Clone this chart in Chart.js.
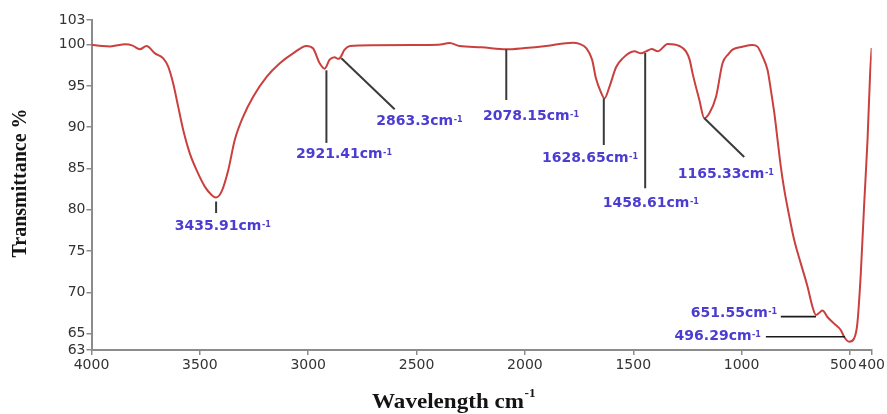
<!DOCTYPE html>
<html><head><meta charset="utf-8">
<script src="https://cdn.jsdelivr.net/npm/chart.js@4"></script>
<style>html,body{margin:0;padding:0;background:#fff}canvas{display:block}</style>
</head><body>
<canvas id="c" width="887" height="414"></canvas>
<script>
// ---- data ----
const wavenumbers = [4000,3950,3915,3880,3846,3810,3777,3746,3707,3669,3646,3623,3600,3577,3546,3515,3477,3446,3426,3400,3369,3339,3300,3254,3192,3131,3070,3008,2978,2947,2924,2901,2878,2863,2855,2832,2808,2700,2517,2400,2348,2301,2200,2086,2000,1902,1779,1748,1717,1690,1672,1650,1633,1610,1579,1549,1495,1464,1441,1415,1387,1341,1287,1257,1240,1226,1195,1172,1149,1118,1088,1060,1042,996,950,927,903,880,865,849,834,819,803,780,757,727,696,673,657,640,627,604,573,542,527,504,481,466,450,435,419,407,400];
const transmittance = [100.0,99.85,99.8,99.95,100.05,99.9,99.45,99.85,98.95,98.35,97.35,95.3,92.5,89.7,86.8,84.8,82.8,81.8,81.5,82.2,84.8,88.45,91.3,93.7,96.1,97.75,98.95,99.85,99.57,97.75,97.1,98.2,98.5,98.3,98.35,99.4,99.85,99.95,99.97,100.0,100.2,99.85,99.7,99.45,99.6,99.85,100.25,100.1,99.6,98.2,95.9,94.3,93.5,94.9,97.3,98.35,99.2,98.96,99.2,99.5,99.2,100.1,99.85,99.2,98.2,96.5,93.3,91.1,91.7,93.7,97.75,98.9,99.4,99.75,99.97,99.77,98.55,96.9,94.5,91.7,88.45,85.2,82.4,79.2,76.3,73.5,70.7,68.25,67.25,67.55,67.8,67.0,66.2,65.4,64.6,64.0,64.4,66.2,72.3,80.4,88.45,96.5,99.6];
const xTickValues = [4000,3500,3000,2500,2000,1500,1000,500,400];
const yTickValues = [63,65,70,75,80,85,90,95,100,103];
const peakLabels = ['3435.91','2921.41','2863.3','2078.15','1628.65','1458.61','1165.33','651.55','496.29'];

// leader geometry in data units (wavenumber, %T)
const leaderGeometry = [
  {line:[[3425,81.0],[3425,79.6]], at:[3394,78.15], align:'center'},
  {line:[[2916,96.9],[2916,88.1]], at:[2835,86.9], align:'center'},
  {line:[[2847,98.36],[2601,92.18]], at:[2487,90.9], align:'center'},
  {line:[[2086,99.45],[2086,93.3]], at:[1972,91.5], align:'center'},
  {line:[[1636,93.5],[1636,87.85]], at:[1700,86.4], align:'center'},
  {line:[[1445,99.0],[1445,82.6]], at:[1419,81.0], align:'center'},
  {line:[[1172,91.1],[988,86.4]], at:[1073,84.4], align:'center'},
  {line:[[819,67.04],[657,67.04]], at:[836,67.65], align:'right'},
  {line:[[888,64.6],[523,64.6]], at:[911,64.8], align:'right'}
];

const AXIS = '#8c8c8c';
const LABEL_BLUE = '#4b3cd2';

function drawWithSup(ctx, main, sup, x, yMid, align, mainFont, supFont, supRise, color){
  ctx.save();
  ctx.fillStyle = color;
  ctx.font = mainFont;
  const wMain = ctx.measureText(main).width;
  ctx.font = supFont;
  const wSup = ctx.measureText(sup).width;
  const total = wMain + wSup + 0.5;
  let x0 = x;
  if (align === 'center') x0 = x - total/2;
  else if (align === 'right') x0 = x - total;
  ctx.textAlign = 'left';
  ctx.textBaseline = 'alphabetic';
  ctx.font = mainFont;
  const base = yMid + 5;
  ctx.fillText(main, x0, base);
  ctx.font = supFont;
  ctx.fillText(sup, x0 + wMain + 0.5, base - supRise);
  ctx.restore();
}

const annotate = {
  id:'annotate',
  afterDatasetsDraw(chart){
    const ctx = chart.ctx, xs = chart.scales.x, ys = chart.scales.y;
    ctx.save();
    leaderGeometry.forEach((g, i) => {
      ctx.beginPath();
      ctx.strokeStyle = i >= 7 ? '#1a1a1a' : '#3a3a3a';
      ctx.lineWidth = i >= 7 ? 1.6 : 2;
      ctx.moveTo(xs.getPixelForValue(g.line[0][0]), ys.getPixelForValue(g.line[0][1]));
      ctx.lineTo(xs.getPixelForValue(g.line[1][0]), ys.getPixelForValue(g.line[1][1]));
      ctx.stroke();
      drawWithSup(ctx, peakLabels[i] + 'cm', '-1',
        xs.getPixelForValue(g.at[0]), ys.getPixelForValue(g.at[1]), g.align,
        'bold 14px "DejaVu Sans"', 'bold 8px "DejaVu Sans"', 3, LABEL_BLUE);
    });
    ctx.restore();
  },
  afterDraw(chart){
    const ctx = chart.ctx;
    // x title
    ctx.save();
    ctx.translate(372, 408);
    ctx.scale(1.1, 1);
    ctx.fillStyle = '#141414';
    ctx.textBaseline = 'alphabetic';
    ctx.textAlign = 'left';
    ctx.font = 'bold 21px "Liberation Serif"';
    const t = 'Wavelength cm';
    const w = ctx.measureText(t).width;
    ctx.fillText(t, 0, 0);
    ctx.font = 'bold 12px "Liberation Serif"';
    ctx.fillText('-1', w + 0.5, -11);
    ctx.restore();
    // y title
    ctx.save();
    ctx.translate(26, 183);
    ctx.rotate(-Math.PI/2);
    ctx.fillStyle = '#141414';
    ctx.textAlign = 'center';
    ctx.textBaseline = 'alphabetic';
    ctx.font = 'bold 20px "Liberation Serif"';
    ctx.fillText('Transmittance %', 0, 0);
    ctx.restore();
  }
};

new Chart(document.getElementById('c'), {
  type:'line',
  data:{datasets:[{
    data: wavenumbers.map((w,i)=>({x:w, y:transmittance[i]})),
    borderColor:'#c9403f', borderWidth:2, pointRadius:0, fill:false,
    cubicInterpolationMode:'monotone'
  }]},
  options:{
    responsive:false, animation:false, devicePixelRatio:1,
    layout:{padding:{top:20, right:14.3, left:0, bottom:0}},
    plugins:{legend:{display:false}, tooltip:{enabled:false}},
    scales:{
      x:{
        type:'linear', reverse:true, min:400, max:4000,
        afterBuildTicks:s=>{ s.ticks = xTickValues.map(v=>({value:v})); },
        afterFit:s=>{ s.height = 64; },
        grid:{drawOnChartArea:false, tickLength:5, color:AXIS, lineWidth:1.5},
        border:{color:AXIS, width:2},
        ticks:{autoSkip:false, maxRotation:0, minRotation:0, padding:2, color:'#333',
          font:{family:'DejaVu Sans', size:14},
          callback:v => v === 500 ? '500   ' : String(v)}
      },
      y:{
        type:'linear', min:63, max:103,
        afterBuildTicks:s=>{ s.ticks = yTickValues.map(v=>({value:v})); },
        afterFit:s=>{ s.width = 91.5; },
        grid:{drawOnChartArea:false, tickLength:5, color:AXIS, lineWidth:1.5},
        border:{color:AXIS, width:2},
        ticks:{autoSkip:false, padding:1, color:'#333',
          font:{family:'DejaVu Sans', size:14},
          callback:v => String(v)}
      }
    }
  },
  plugins:[annotate]
});
</script>
</body></html>
